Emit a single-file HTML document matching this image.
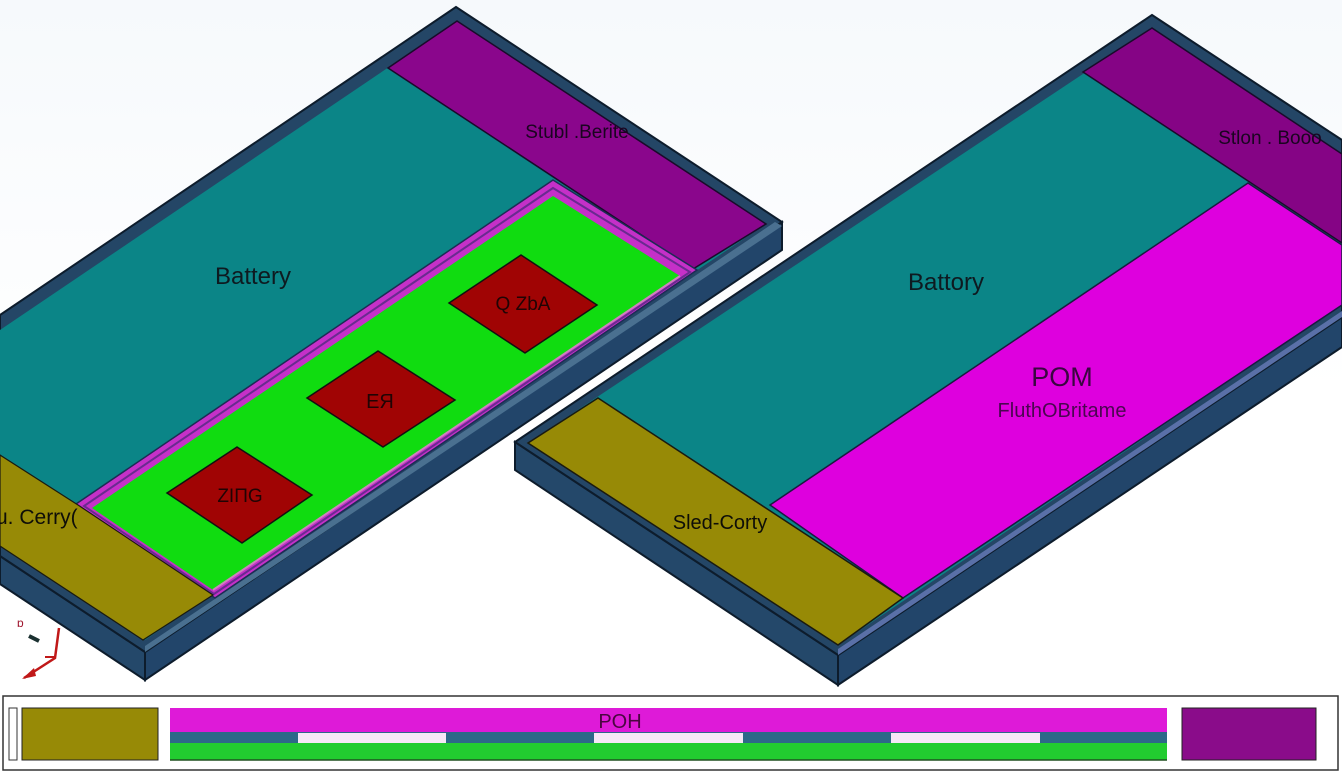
<!DOCTYPE html>
<html><head><meta charset="utf-8"><style>
html,body{margin:0;padding:0;background:#fff;}
svg{display:block;}
text{font-family:"Liberation Sans",sans-serif;}
</style></head><body>
<svg width="1342" height="780" viewBox="0 0 1342 780" xmlns="http://www.w3.org/2000/svg">
<defs>
<linearGradient id="bg" x1="0" y1="0" x2="0" y2="1"><stop offset="0" stop-color="#f6f9fc"/><stop offset="0.5" stop-color="#ffffff"/></linearGradient>
</defs>
<rect width="1342" height="780" fill="url(#bg)"/>

<!-- LEFT BOARD -->
<polygon points="0,556 145,652 145,680 0,584" fill="#24486a" stroke="#0d1c2c" stroke-width="2"/>
<polygon points="145,652 782,222 782,250 145,680" fill="#22456a" stroke="#0d1c2c" stroke-width="2"/>
<polygon points="0,315 456,7 782,222 145,652 0,556" fill="#244666" stroke="#0d1c2c" stroke-width="2"/>
<polygon points="145,646 775,222 782,226 145,652" fill="#4a7090"/>
<polygon points="0,330 457,21 766,224 145,640 0,545" fill="#0b8587"/>
<polygon points="457,21 766,224 693,269 388,68" fill="#8a068c" stroke="#1a0a2a" stroke-width="1.5"/>
<polygon points="553,180 697,270 215,598 76,504" fill="#c530c8" stroke="#1d2b55" stroke-width="1.5"/>
<polygon points="553,188 690,272 214,594 84,506" fill="none" stroke="#6a2a90" stroke-width="2"/>
<polygon points="553,196 680,276 213,590 92,508" fill="#10dc10"/>
<polyline points="680,276 213,590" fill="none" stroke="#d080c0" stroke-width="2"/>
<polygon points="0,455 78,505 213,595 143,640 0,546" fill="#978a06" stroke="#1a1a10" stroke-width="1.2"/>
<polygon points="237,447 312,495 242,543 167,493" fill="#a00404" stroke="#111" stroke-width="1.5"/>
<polygon points="378,351 455,400 383,447 307,398" fill="#a00404" stroke="#111" stroke-width="1.5"/>
<polygon points="521,255 597,305 525,353 449,303" fill="#a00404" stroke="#111" stroke-width="1.5"/>
<text x="240" y="502" font-size="19" fill="#200404" text-anchor="middle">ZIПG</text>
<text x="380" y="408" font-size="20" fill="#200404" text-anchor="middle">EЯ</text>
<text x="523" y="310" font-size="19" fill="#200404" text-anchor="middle">Q ZbA</text>
<text x="253" y="284" font-size="24" fill="#0e1a20" text-anchor="middle">Battery</text>
<text x="577" y="138" font-size="19" fill="#1a0420" text-anchor="middle">Stubl .Berite</text>
<text x="-4" y="524" font-size="21" fill="#0e0e08">u. Cerry(</text>

<!-- axis triad -->
<polyline points="59,628 55,658 24,678" fill="none" stroke="#c01818" stroke-width="2.5"/>
<polygon points="22,679 34,668 36,676" fill="#c01818"/>
<line x1="45" y1="657" x2="55" y2="657" stroke="#c01818" stroke-width="2"/>
<line x1="29" y1="636" x2="39" y2="641" stroke="#1a3030" stroke-width="4"/>
<text x="17" y="627" font-size="12" fill="#a01830">ɒ</text>

<!-- RIGHT BOARD -->
<polygon points="515,442 838,655 838,685 515,470" fill="#24486a" stroke="#0d1c2c" stroke-width="2"/>
<polygon points="838,655 1342,317 1342,347 838,685" fill="#22456a" stroke="#0d1c2c" stroke-width="2"/>
<polygon points="515,442 1152,15 1342,140 1342,317 838,655" fill="#244666" stroke="#0d1c2c" stroke-width="2"/>
<polygon points="838,649 1342,311 1342,317 838,655" fill="#5a70a8"/>
<polygon points="528,443 1152,28 1342,154 1342,305 838,645" fill="#0b8587"/>
<polygon points="1152,28 1342,154 1342,243 1083,72" fill="#850485" stroke="#1a0a2a" stroke-width="1.5"/>
<polygon points="1248,183 1342,245 1342,305 903,598 770,505" fill="#de00de" stroke="#1a1a40" stroke-width="1.5"/>
<polygon points="528,443 598,398 903,598 838,645" fill="#978a06" stroke="#1a1a10" stroke-width="1.5"/>
<text x="946" y="290" font-size="24" fill="#0e1a20" text-anchor="middle">Battory</text>
<text x="1062" y="386" font-size="27" fill="#3a0640" text-anchor="middle">POM</text>
<text x="1062" y="417" font-size="20" fill="#4a0650" text-anchor="middle">FluthOBritame</text>
<text x="1270" y="144" font-size="19" fill="#1a0420" text-anchor="middle">Stlon . Booo</text>
<text x="720" y="529" font-size="20" fill="#0e0e08" text-anchor="middle">Sled-Corty</text>

<!-- BOTTOM STRIP -->
<rect x="3" y="696" width="1335" height="74" fill="#fff" stroke="#333" stroke-width="1.5"/>
<rect x="9" y="708" width="8" height="52" fill="#fff" stroke="#333" stroke-width="1"/>
<rect x="22" y="708" width="136" height="52" fill="#978a06" stroke="#222" stroke-width="1"/>
<rect x="170" y="708" width="997" height="24" fill="#de1ad8"/>
<rect x="170" y="732" width="997" height="11" fill="#2e6888"/>
<rect x="298" y="733" width="148" height="10" fill="#f6e8f6"/>
<rect x="594" y="733" width="149" height="10" fill="#f6e8f6"/>
<rect x="891" y="733" width="149" height="10" fill="#f6e8f6"/>
<rect x="170" y="743" width="997" height="17" fill="#22cc30"/>
<line x1="170" y1="760" x2="1167" y2="760" stroke="#205020" stroke-width="1.5"/>
<rect x="1182" y="708" width="134" height="52" fill="#8a0c8a" stroke="#222" stroke-width="1"/>
<text x="620" y="728" font-size="20" fill="#4a0640" text-anchor="middle">POH</text>
</svg>
</body></html>
